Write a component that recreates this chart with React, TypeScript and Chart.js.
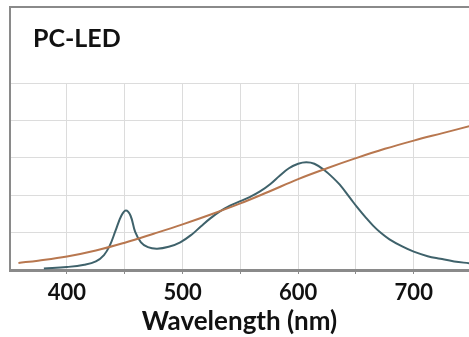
import React, { useEffect, useRef } from "react";
import { Chart, registerables } from "chart.js";

Chart.register(...registerables);

const ledWavelengths = [380, 400, 415, 425, 432, 437, 442, 447, 451, 455, 459, 464, 470, 478, 488, 498, 508, 516, 524, 532, 541, 550, 558, 567, 576, 584, 592, 600, 607, 614, 623, 630, 636, 645, 651, 658, 665, 672, 679, 690, 700, 712, 723, 735, 748];
const ledValues = [0.04, 0.08, 0.14, 0.23, 0.4, 0.65, 1.05, 1.45, 1.59, 1.45, 1.02, 0.74, 0.61, 0.57, 0.62, 0.74, 0.95, 1.17, 1.38, 1.56, 1.72, 1.84, 1.95, 2.1, 2.3, 2.52, 2.72, 2.84, 2.88, 2.84, 2.66, 2.47, 2.28, 1.92, 1.68, 1.42, 1.18, 0.98, 0.82, 0.63, 0.49, 0.37, 0.3, 0.23, 0.18];

const refWavelengths = [358, 375, 400, 425, 450, 475, 500, 525, 550, 575, 600, 625, 650, 675, 700, 725, 750];
const refValues = [0.19, 0.25, 0.36, 0.52, 0.73, 0.97, 1.22, 1.49, 1.78, 2.1, 2.43, 2.72, 2.99, 3.24, 3.46, 3.66, 3.86];

const xTickLabels = [400, 500, 600, 700];
const titleText = "PC-LED";
const axisTitle = "Wavelength (nm)";

const FONT = "Lato, 'Open Sans', sans-serif";

const boxPlugin = {
  id: "boxPlugin",
  afterDraw(chart: any) {
    const { ctx, chartArea } = chart;
    ctx.save();
    ctx.strokeStyle = "#8a8a8a";
    ctx.lineWidth = 2;
    ctx.beginPath();
    ctx.moveTo(chartArea.left, chartArea.top);
    ctx.lineTo(chartArea.left, 7);
    ctx.lineTo(chart.width, 7);
    ctx.stroke();
    ctx.fillStyle = "#111";
    ctx.font = `bold 25px ${FONT}`;
    ctx.textBaseline = "alphabetic";
    ctx.textAlign = "left";
    ctx.fillText(titleText, 33, 47);
    ctx.restore();
  },
};

export default function App() {
  const ref = useRef<HTMLCanvasElement>(null);
  useEffect(() => {
    const chart = new Chart(ref.current!, {
      type: "line",
      data: {
        datasets: [
          {
            label: "Reference",
            data: refWavelengths.map((x, i) => ({ x, y: refValues[i] })),
            borderColor: "#b8774f",
            borderWidth: 2,
            pointRadius: 0,
            tension: 0.4,
            fill: false,
          },
          {
            label: "PC-LED",
            data: ledWavelengths.map((x, i) => ({ x, y: ledValues[i] })),
            borderColor: "#3f626b",
            borderWidth: 2,
            pointRadius: 0,
            tension: 0.4,
            fill: false,
          },
        ],
      },
      options: {
        animation: false,
        responsive: false,
        layout: { padding: { top: 83, right: 0, left: 0, bottom: 0 } },
        plugins: { legend: { display: false }, tooltip: { enabled: false } },
        scales: {
          x: {
            type: "linear",
            min: 350.7,
            max: 747.8,
            grid: { color: "#dcdcdc", lineWidth: 1, tickLength: 4, tickColor: "#8a8a8a" },
            border: { color: "#8a8a8a", width: 3 },
            ticks: {
              stepSize: 50,
              includeBounds: false,
              autoSkip: false,
              maxRotation: 0,
              padding: 6,
              color: "#111",
              font: { family: FONT, size: 22, weight: "bold" },
              callback: (v: any) => (xTickLabels.includes(Number(v)) ? String(v) : ""),
            },
            title: {
              display: true,
              text: axisTitle,
              color: "#111",
              font: { family: FONT, size: 26, weight: "bold" },
              padding: { top: 0, bottom: 0 },
            },
            afterFit: (s: any) => {
              s.height = 67;
            },
          },
          y: {
            min: 0,
            max: 5,
            grid: { color: "#dcdcdc", lineWidth: 1, drawTicks: false },
            border: { color: "#8a8a8a", width: 2 },
            ticks: { display: false, stepSize: 1 },
            afterFit: (s: any) => {
              s.width = 10;
            },
          },
        },
      },
      plugins: [boxPlugin],
    });
    return () => chart.destroy();
  }, []);
  return (
    <div style={{ position: "absolute", left: 0, top: 0, width: 469, height: 337, background: "#fff" }}>
      <canvas ref={ref} width={469} height={337} style={{ width: 469, height: 337 }} />
    </div>
  );
}
